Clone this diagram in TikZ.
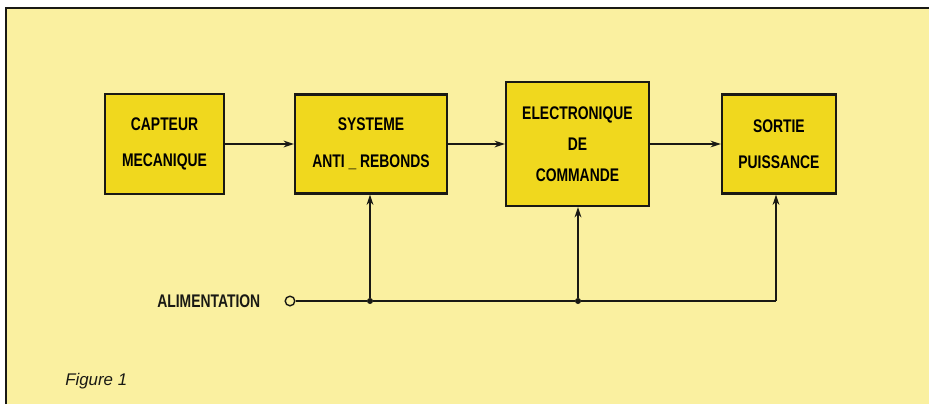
\documentclass[tikz,border=0pt]{standalone}
\usepackage{fontspec}
\newfontfamily\blockfont{Liberation Sans}[FakeStretch=0.76]
\newfontfamily\captionfont{Liberation Sans}
\usepackage{tikz}
\usetikzlibrary{positioning,arrows.meta}
\definecolor{paper}{RGB}{250,240,160}
\definecolor{blockyellow}{RGB}{240,216,30}
\definecolor{ink}{RGB}{25,25,20}

\begin{document}
\begin{tikzpicture}[
    x=0.025cm, y=-0.025cm,
    block/.style={rectangle, draw=ink, line width=1.5pt, fill=blockyellow,
                  align=center, inner sep=0pt,
                  font={\blockfont\bfseries\fontsize{13pt}{26pt}\selectfont}},
    wire/.style={draw=ink, line width=1pt},
    arrow/.style={wire, -{Stealth[length=2.6mm,width=1.7mm]}},
    junction/.style={circle, fill=ink, inner sep=0pt, minimum size=0.15cm},
    terminal/.style={circle, draw=ink, line width=1pt, fill=paper,
                     inner sep=0pt, minimum size=0.24cm},
    label/.style={inner sep=0pt, text=ink,
                  font={\blockfont\bfseries\fontsize{13pt}{15pt}\selectfont}},
]

% Paper and frame
\useasboundingbox (0,0) rectangle (929,404);
\fill[white] (0,0) rectangle (929,404);
\fill[paper] (6,8) rectangle (929,404);
\draw[ink, line width=1.6pt] (6,404) -- (6,8) -- (929,8);

% Blocks
\node[block, minimum width=2.975cm, minimum height=2.5cm] (capteur) at (164.5,144)
    {CAPTEUR\\MECANIQUE};
\node[block, minimum width=3.8cm, minimum height=2.475cm, right=1.72cm of capteur] (systeme)
    {SYSTEME\\ANTI \_ REBONDS};
\node[block, minimum width=3.575cm, minimum height=3.1cm, right=1.42cm of systeme,
      font={\blockfont\bfseries\fontsize{13pt}{22pt}\selectfont}] (commande)
    {ELECTRONIQUE\\DE\\COMMANDE};
\node[block, minimum width=2.85cm, minimum height=2.475cm, right=1.77cm of commande] (sortie)
    {SORTIE\\PUISSANCE};

% Supply line
\node[terminal] (alim) at (290,301) {};
\node[label, left=0.6cm of alim] (alimtext) {ALIMENTATION};
\node[junction] (j1) at (370,301) {};
\node[junction] (j2) at (578,301) {};
\coordinate (pend) at (776,301);

% Arrows
\draw[arrow] (capteur) -- (systeme);
\draw[arrow] (systeme) -- (systeme -| commande.west);
\draw[arrow] (commande) -- (commande -| sortie.west);
\draw[wire] (alim) -- (j1) -- (j2) -- (pend);
\draw[arrow] (j1) -- (j1 |- systeme.south);
\draw[arrow] (j2) -- (j2 |- commande.south);
\draw[arrow] (pend) -- (pend |- sortie.south);

% Caption
\node[anchor=west, inner sep=0pt, text=ink, font={\captionfont\itshape\fontsize{12pt}{14pt}\selectfont}]
    (caption) at (65,381) {Figure 1};

\end{tikzpicture}
\end{document}
